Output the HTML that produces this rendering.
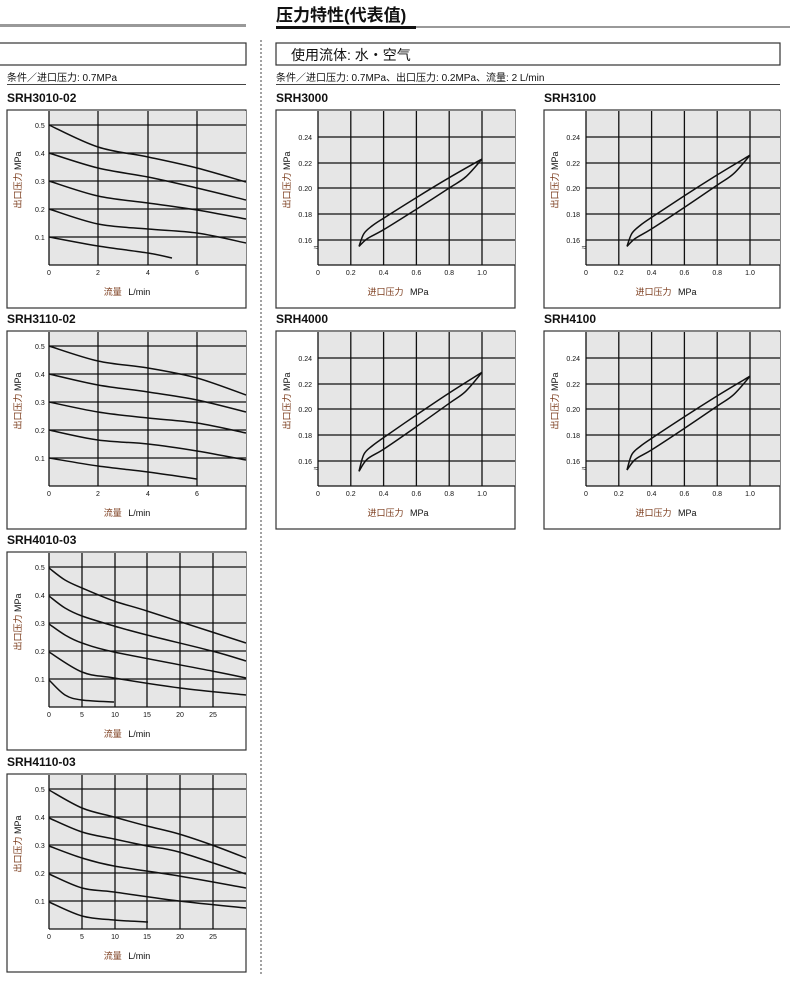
<!DOCTYPE html>
<html><head><meta charset="utf-8">
<style>
html,body{margin:0;padding:0;background:#fff;}
body{width:790px;height:982px;overflow:hidden;}
svg text{font-family:"Liberation Sans","Noto Sans CJK SC",sans-serif;}
</style></head>
<body>
<svg id="s" width="790" height="982" viewBox="0 0 790 982" xmlns="http://www.w3.org/2000/svg">
<rect x="0" y="24" width="246" height="3" fill="#999"/>
<text x="276" y="21" font-size="17" font-weight="bold" fill="#111">压力特性(代表值)</text>
<rect x="276" y="26" width="140" height="3" fill="#111"/>
<rect x="416" y="26" width="374" height="2" fill="#999"/>
<rect x="-2" y="43" width="248" height="22" fill="none" stroke="#333" stroke-width="1.2"/>
<rect x="276" y="43" width="504" height="22" fill="none" stroke="#333" stroke-width="1.2"/>
<text x="291" y="60" font-size="14" fill="#111">使用流体: 水・空气</text>
<text x="7" y="81" font-size="10" fill="#111">条件／进口压力: 0.7MPa</text>
<rect x="7" y="84" width="239" height="1" fill="#444"/>
<text x="276" y="81" font-size="10" fill="#111">条件／进口压力: 0.7MPa、出口压力: 0.2MPa、流量: 2 L/min</text>
<rect x="276" y="84" width="504" height="1" fill="#444"/>
<line x1="261" y1="40" x2="261" y2="976" stroke="#444" stroke-width="1" stroke-dasharray="2,2"/>
<g id="g"></g>
</svg>
<script>
var g=document.getElementById('g');var h='';
function T(x,y,t,fs,extra){h+='<text x="'+x+'" y="'+y+'" font-size="'+fs+'" '+(extra||'')+'>'+t+'</text>';}
function poly(pts){var d='M'+pts[0][0]+','+pts[0][1];
 for(var i=0;i<pts.length-1;i++){var p0=pts[i-1]||pts[i],p1=pts[i],p2=pts[i+1],p3=pts[i+2]||p2;
 d+=' C'+(p1[0]+(p2[0]-p0[0])/6).toFixed(1)+','+(p1[1]+(p2[1]-p0[1])/6).toFixed(1)+' '+(p2[0]-(p3[0]-p1[0])/6).toFixed(1)+','+(p2[1]-(p3[1]-p1[1])/6).toFixed(1)+' '+p2[0]+','+p2[1];}
 h+='<path d="'+d+'" fill="none" stroke="#111" stroke-width="1.5"/>';}
function panel(px,py,title,pl,w){
 T(px,py-8,title,12,'font-weight="bold" fill="#111"');
 h+='<rect x="'+px+'" y="'+py+'" width="'+w+'" height="198" fill="none" stroke="#333" stroke-width="1.2"/>';
 h+='<rect x="'+pl+'" y="'+(py+1)+'" width="'+(px+w-pl)+'" height="154" fill="#e6e6e6"/>';
}
function ylab(x,cy){h+='<text transform="translate('+x+','+cy+') rotate(-90)" font-size="9" text-anchor="middle" fill="#7a3a1a">出口压力 <tspan fill="#111">MPa</tspan></text>';}
function flow(py,title,xt,xs,curves){
 var px=7,pl=49;panel(px,py,title,pl,239);
 var ys=[15,43,71,99,127];
 for(var i=0;i<ys.length;i++){h+='<line x1="'+pl+'" y1="'+(py+ys[i])+'" x2="246" y2="'+(py+ys[i])+'" stroke="#111" stroke-width="1.3"/>';T(35,py+ys[i]+3,'0.'+(5-i),7,'fill="#111"');}
 for(var j=0;j<xs.length;j++){h+='<line x1="'+xs[j]+'" y1="'+(py+1)+'" x2="'+xs[j]+'" y2="'+(py+155)+'" stroke="#111" stroke-width="1.3"/>';T(xs[j],py+165,xt[j],7,'text-anchor="middle" fill="#111"');}
 h+='<line x1="'+pl+'" y1="'+(py+155)+'" x2="246" y2="'+(py+155)+'" stroke="#111" stroke-width="1.3"/>';
 ylab(21,py+70);
 h+='<text x="127" y="'+(py+185)+'" font-size="9" text-anchor="middle" fill="#7a3a1a">流量 <tspan dx="4" fill="#111">L/min</tspan></text>';
 for(var k=0;k<curves.length;k++)poly(curves[k]);
}
flow(110,'SRH3010-02',['0','2','4','6'],[49,98,148,197],[
[[49,125],[98,147],[148,157],[197,168],[246,182]],
[[49,153],[98,168],[148,177],[197,188],[246,200]],
[[49,181],[98,196],[148,203],[197,210],[246,219]],
[[49,209],[98,224],[148,229],[197,233],[246,243]],
[[49,237],[98,246],[148,253],[172,258]]]);
flow(331,'SRH3110-02',['0','2','4','6'],[49,98,148,197],[
[[49,346],[98,361],[148,368],[197,378],[246,395]],
[[49,374],[98,385],[148,392],[197,400],[246,412]],
[[49,402],[98,412],[148,418],[197,423],[246,433]],
[[49,430],[98,440],[148,444],[197,451],[246,460]],
[[49,458],[98,466],[148,472],[197,479]]]);
flow(552,'SRH4010-03',['0','5','10','15','20','25'],[49,82,115,147,180,213],[
[[49,568],[65,580],[82,588],[114,601],[147,611],[212,632],[246,643]],
[[49,596],[65,608],[82,616],[114,626],[147,635],[212,651],[246,661]],
[[49,624],[65,635],[82,643],[114,652],[212,671],[246,678]],
[[49,652],[82,672],[114,678],[180,688],[246,695]],
[[49,680],[65,695],[82,700],[114,702]]]);
flow(774,'SRH4110-03',['0','5','10','15','20','25'],[49,82,115,147,180,213],[
[[49,790],[82,808],[114,817],[147,826],[179,834],[212,845],[246,858]],
[[49,818],[82,832],[114,839],[147,846],[179,852],[246,874]],
[[49,846],[82,858],[114,866],[179,876],[246,888]],
[[49,874],[82,888],[114,892],[179,901],[246,908]],
[[49,902],[82,916],[114,920],[148,922]]]);
function hyst(px,py,title,up,lo,w){
 var pl=px+42;panel(px,py,title,pl,w);
 var ys=[27,53,78,104,130],lab=['0.24','0.22','0.20','0.18','0.16'];
 for(var i=0;i<5;i++){h+='<line x1="'+pl+'" y1="'+(py+ys[i])+'" x2="'+(px+w)+'" y2="'+(py+ys[i])+'" stroke="#111" stroke-width="1.3"/>';T(px+36,py+ys[i]+3,lab[i],7,'text-anchor="end" fill="#111"');}
 var xl=['0','0.2','0.4','0.6','0.8','1.0'];
 for(var j=0;j<6;j++){var x=pl+j*32.8;h+='<line x1="'+x+'" y1="'+(py+1)+'" x2="'+x+'" y2="'+(py+155)+'" stroke="#111" stroke-width="1.3"/>';T(x,py+165,xl[j],7,'text-anchor="middle" fill="#111"');}
 h+='<line x1="'+pl+'" y1="'+(py+155)+'" x2="'+(px+w)+'" y2="'+(py+155)+'" stroke="#111" stroke-width="1.3"/>';
 T(pl-2,py+140,'≈',8,'text-anchor="middle" fill="#111"');
 ylab(px+14,py+70);
 h+='<text x="'+(px+122)+'" y="'+(py+185)+'" font-size="9" text-anchor="middle" fill="#7a3a1a">进口压力 <tspan dx="4" fill="#111">MPa</tspan></text>';
 function m(a){return a.map(function(p){return[+(pl+p[0]*164).toFixed(1),+(py+130-(p[1]-0.16)*1285).toFixed(1)];});}
 poly(m(up));poly(m(lo));
}
var U=[[0.25,0.155],[0.28,0.165],[0.33,0.171],[0.4,0.177],[0.6,0.193],[0.8,0.2085],[1.0,0.223]];
var L=[[0.25,0.155],[0.3,0.161],[0.4,0.168],[0.6,0.184],[0.8,0.2005],[0.9,0.209],[1.0,0.223]];
function sh(a,d,s){return a.map(function(p,i){return i==0?[0.25,s]:[p[0],p[1]+(d*(p[0]-0.25)/0.75)];});}
hyst(276,110,'SRH3000',U,L,239);
hyst(544,110,'SRH3100',sh(U,0.003,0.155),sh(L,0.003,0.155),236);
hyst(276,331,'SRH4000',sh(U,0.006,0.152),sh(L,0.006,0.152),239);
hyst(544,331,'SRH4100',sh(U,0.003,0.153),sh(L,0.003,0.153),236);
g.innerHTML=h;
</script>
</body></html>
